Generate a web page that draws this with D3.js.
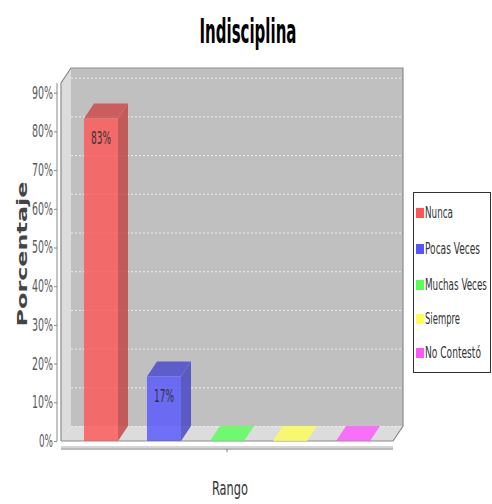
<!DOCTYPE html>
<html><head><meta charset="utf-8">
<script src="https://cdn.jsdelivr.net/npm/d3@7/dist/d3.min.js"></script>
<style>
html,body{margin:0;padding:0;background:#fff;}
svg{display:block;}
text{font-family:"DejaVu Sans Condensed","DejaVu Sans",sans-serif;}
</style></head>
<body>
<script>
const title = "Indisciplina";
const xTitle = "Rango";
const yTitle = "Porcentaje";
const categories = ["Nunca", "Pocas Veces", "Muchas Veces", "Siempre", "No Contestó"];
const values = [83.33, 16.67, 0, 0, 0];
const colors = ["#ff5555", "#5555ff", "#55ff55", "#ffff55", "#ff55ff"];
const yTicks = [0, 10, 20, 30, 40, 50, 60, 70, 80, 90];

const W = 492, H = 504;
const svg = d3.select("body").append("svg").attr("width", W).attr("height", H);

// draws text scaled horizontally to a given width
function fitText(parent, str, px, py, width, anchor, attrs) {
  const g = parent.append("g");
  const t = g.append("text").attr("x", 0).attr("y", 0).text(str);
  Object.entries(attrs).forEach(([k, v]) => t.attr(k, v));
  const len = t.node().getComputedTextLength();
  const sx = width / len;
  let x0 = px;
  if (anchor === "middle") x0 = px - width / 2;
  else if (anchor === "end") x0 = px - width;
  g.attr("transform", `translate(${x0},${py}) scale(${sx},1)`);
  return g;
}

const L = 61, R = 393, T = 83, B = 441;
const dx = 10, dy = 15;

const y = d3.scaleLinear().domain([0, 92.5]).range([B, T]);
const x = d3.scaleBand().domain(categories).range([L, R]).paddingInner(0.46).paddingOuter(0.365);

// back wall
svg.append("rect").attr("x", L + dx).attr("y", T - dy).attr("width", R - L).attr("height", B - T).attr("fill", "#c0c0c0");
// left wall
svg.append("polygon").attr("points", [[L, T], [L + dx, T - dy], [L + dx, B - dy], [L, B]].join(" ")).attr("fill", "#dcdcdc");
// floor
svg.append("polygon").attr("points", [[L, B], [L + dx, B - dy], [R + dx, B - dy], [R, B]].join(" ")).attr("fill", "#dcdcdc");

// gridlines on back wall
svg.append("g").selectAll("line").data(yTicks).join("line")
  .attr("x1", L + dx).attr("x2", R + dx)
  .attr("y1", d => y(d) - dy + 0.5).attr("y2", d => y(d) - dy + 0.5)
  .attr("stroke", "#eeeeee").attr("stroke-width", 1).attr("stroke-dasharray", "2,2");

// outline
svg.append("polyline").attr("points", [[L, B], [L, T], [L + dx, T - dy], [R + dx, T - dy], [R + dx, B - dy], [R, B], [L, B]].join(" "))
  .attr("fill", "none").attr("stroke", "#8c8c8c").attr("stroke-width", 1.2);

// bars
const bars = svg.append("g");
const labels = svg.append("g");
categories.forEach((c, i) => {
  const v = values[i];
  const x0 = x(c), w = x.bandwidth(), x1 = x0 + w;
  const yt = y(v);
  const base = d3.color(colors[i]);
  const g = bars.append("g").attr("opacity", 0.8);
  if (v > 0) {
    g.append("polygon").attr("points", [[x1, yt], [x1 + dx, yt - dy], [x1 + dx, B - dy], [x1, B]].join(" "))
      .attr("fill", base.darker(0.75));
    g.append("polygon").attr("points", [[x0, yt], [x0 + dx, yt - dy], [x1 + dx, yt - dy], [x1, yt]].join(" "))
      .attr("fill", base.darker(0.6));
    g.append("rect").attr("x", x0).attr("y", yt).attr("width", w).attr("height", B - yt).attr("fill", base);
    fitText(labels, Math.round(v) + "%", x0 + w / 2, yt + 26, 20, "middle",
      {"font-size": 17, "fill": "#333"});
  } else {
    g.append("polygon").attr("points", [[x0, B], [x0 + dx, B - dy], [x1 + dx, B - dy], [x1, B]].join(" "))
      .attr("fill", base);
  }
});

// y axis
const ya = svg.append("g");
ya.append("line").attr("x1", 57).attr("x2", 57).attr("y1", T).attr("y2", B).attr("stroke", "#888");
ya.selectAll("line.t").data(yTicks).join("line").attr("class", "t")
  .attr("x1", 54).attr("x2", 57).attr("y1", d => y(d) + 0.5).attr("y2", d => y(d) + 0.5).attr("stroke", "#888");
yTicks.forEach(d => {
  const s = d + "%";
  fitText(ya, s, 53, y(d) + 6, s.length * 7, "end", {"font-size": 17, "fill": "#5a5a5a"});
});

// x axis
svg.append("line").attr("x1", L).attr("x2", R).attr("y1", 447).attr("y2", 447).attr("stroke", "#aaa");
svg.append("line").attr("x1", L).attr("x2", R).attr("y1", 449).attr("y2", 449).attr("stroke", "#777");
svg.append("line").attr("x1", (L + R) / 2).attr("x2", (L + R) / 2).attr("y1", 449).attr("y2", 452).attr("stroke", "#777");

// titles
fitText(svg, title, 248, 43, 97, "middle", {"font-size": 34, "font-weight": "bold", "fill": "#000"});
fitText(svg, xTitle, 230, 495, 36, "middle", {"font-size": 20, "fill": "#333"});
const yt = svg.append("g").attr("transform", "translate(27,254) rotate(-90)");
fitText(yt, yTitle, 0, 0, 145, "middle",
  {"font-family": "DejaVu Sans", "font-size": 14, "font-weight": "bold", "fill": "#444"});

// legend
const lg = svg.append("g");
lg.append("rect").attr("x", 413.5).attr("y", 192.5).attr("width", 77).attr("height", 180)
  .attr("fill", "#fff").attr("stroke", "#333").attr("stroke-width", 1);
const legY = [213, 249, 285, 319, 353];
const legW = [28, 55, 62, 35, 56];
categories.forEach((c, i) => {
  lg.append("rect").attr("x", 416).attr("y", legY[i] - 5).attr("width", 8).attr("height", 10).attr("fill", colors[i]);
  fitText(lg, c, 425, legY[i] + 5, legW[i], "start", {"font-size": 15, "fill": "#333"});
});
</script>
</body></html>
